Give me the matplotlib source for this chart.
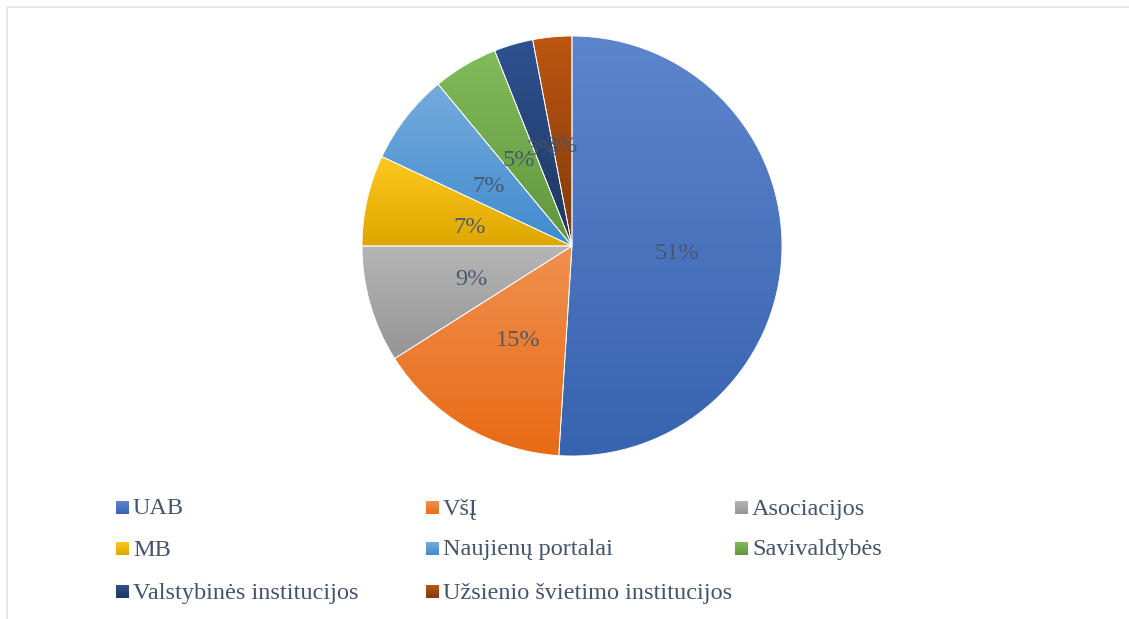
import matplotlib
matplotlib.use("Agg")
import matplotlib.pyplot as plt
import matplotlib.colors as mcolors
from matplotlib.patches import Rectangle
import numpy as np
import colorsys

# Dados
categorias = ["UAB", "VšĮ", "Asociacijos", "MB", "Naujienų portalai",
              "Savivaldybės", "Valstybinės institucijos", "Užsienio švietimo institucijos"]
valores = [51, 15, 9, 7, 7, 5, 3, 3]
cores = ["#4472C4", "#ED7D31", "#A5A5A5", "#FFC000", "#5B9BD5",
         "#70AD47", "#264478", "#9E480E"]

W, H = 1129, 619
fig = plt.figure(figsize=(W / 100, H / 100), dpi=100)
fig.patch.set_facecolor("white")

cor_texto = "#44546A"
fonte = "Liberation Serif"


def gradiente(cor):
    h, l, s = colorsys.rgb_to_hls(*mcolors.to_rgb(cor))
    topo = np.array(colorsys.hls_to_rgb(h, min(l + 0.065, 1), s))
    base = np.array(colorsys.hls_to_rgb(h, max(l - 0.065, 0), s))
    t = np.linspace(0, 1, 256)[:, None]
    img = topo[None, :] * (1 - t) + base[None, :] * t
    return np.clip(img[:, None, :], 0, 1)


# moldura (so esquerda e topo visiveis)
bg = fig.add_axes([0, 0, 1, 1])
bg.set_xlim(0, W)
bg.set_ylim(H, 0)
bg.axis("off")
bg.add_patch(Rectangle((6.5, 7), W + 20, H + 20, fill=False, edgecolor="#DDE1E6", linewidth=1.2))

# pizza
cx, cy, r = 572, 246, 210
ax = fig.add_axes([(cx - r) / W, (H - cy - r) / H, 2 * r / W, 2 * r / H])
wedges, textos, autotextos = ax.pie(
    valores, startangle=90, counterclock=False, radius=1,
    autopct="%1.0f%%", pctdistance=0.5,
    wedgeprops=dict(edgecolor="white", linewidth=0.6),
    textprops=dict(fontsize=17.5, family=fonte, color=cor_texto),
)
ax.set_aspect("equal")
ax.axis("off")

for w, c in zip(wedges, cores):
    w.set_facecolor("none")
    ext = w.get_path().get_extents()
    im = ax.imshow(gradiente(c), extent=[ext.x0, ext.x1, ext.y0, ext.y1],
                   aspect="auto", zorder=0.5, interpolation="bilinear")
    im.set_clip_path(w)
ax.set_xlim(-1, 1)
ax.set_ylim(-1, 1)
for t in autotextos:
    x, y = t.get_position()
    t.set_position((x, y - 0.022))
    t.set_alpha(0.92)

# legenda manual
col_x = [116, 426, 735]
lin_y = [508, 549, 592]
for i, (nome, c) in enumerate(zip(categorias, cores)):
    x = col_x[i % 3]
    y = lin_y[i // 3]
    bg.imshow(gradiente(c), extent=[x, x + 13, y + 6.5, y - 6.5], aspect="auto",
              interpolation="bilinear")
    bg.text(x + 17, y + 1, nome, fontsize=17.5, family=fonte, color=cor_texto,
            va="center", ha="left")
bg.set_xlim(0, W)
bg.set_ylim(H, 0)

fig.savefig("out.png", dpi=100)
